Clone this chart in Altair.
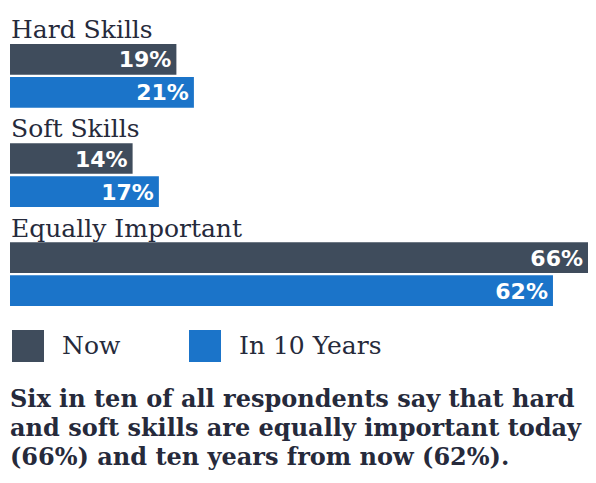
import altair as alt
import pandas as pd

groups = ["Hard Skills", "Soft Skills", "Equally Important"]
series = ["Now", "In 10 Years"]
now_values = [19, 14, 66]
future_values = [21, 17, 62]
colors = ["#3f4c5c", "#1b74c9"]
footnote = [
    "Six in ten of all respondents say that hard",
    "and soft skills are equally important today",
    "(66%) and ten years from now (62%).",
]

text_color = "#262a3b"

rows = []
for g, n, f in zip(groups, now_values, future_values):
    rows.append({"group": g, "series": "Now", "value": n, "row": g + "|Now"})
    rows.append({"group": g, "series": "In 10 Years", "value": f, "row": g + "|In 10 Years"})
bars_df = pd.DataFrame(rows)
bars_df["label"] = bars_df["value"].astype(str) + "%"
heads_df = pd.DataFrame({"group": groups, "row": [g + "|head" for g in groups]})
row_order = [r for g in groups for r in (g + "|head", g + "|Now", g + "|In 10 Years")]

yscale = alt.Scale(domain=row_order, paddingInner=0.07, paddingOuter=0.03)
xscale = alt.Scale(domain=[0, 66], nice=False, zero=True)
y_enc = alt.Y("row:N", scale=yscale, axis=None, sort=row_order)

bars = alt.Chart(bars_df).mark_bar().encode(
    x=alt.X("value:Q", scale=xscale, axis=None),
    y=y_enc,
    color=alt.Color(
        "series:N",
        scale=alt.Scale(domain=series, range=colors),
        legend=alt.Legend(
            orient="none",
            legendX=2,
            legendY=320,
            direction="horizontal",
            title=None,
            symbolType="square",
            symbolSize=1024,
            symbolStrokeWidth=0,
            symbolOpacity=1,
            labelFont="DejaVu Serif",
            labelFontSize=25,
            labelColor=text_color,
            labelOffset=18,
            columnPadding=68,
            padding=0,
        ),
    ),
)

values = alt.Chart(bars_df).mark_text(
    align="right", baseline="middle", dx=-5, dy=1, font="DejaVu Sans",
    fontWeight="bold", fontSize=22, color="white",
).encode(
    x=alt.X("value:Q", scale=xscale, axis=None),
    y=y_enc,
    text="label:N",
)

heads = alt.Chart(heads_df).mark_text(
    align="left", baseline="alphabetic", dy=12, font="DejaVu Serif",
    fontSize=25, color=text_color,
).encode(
    x=alt.value(1),
    y=y_enc,
    text="group:N",
)

chart = alt.layer(bars, values, heads).properties(
    width=578,
    height=297,
    padding={"left": 2, "top": 2, "right": 0, "bottom": 5},
    title=alt.Title(
        text=footnote,
        orient="bottom",
        anchor="start",
        font="DejaVu Serif",
        fontWeight="bold",
        fontSize=24,
        lineHeight=29,
        color=text_color,
        offset=26,
    ),
).configure_view(stroke=None)

chart.save("out.html", embed_options={"renderer": "svg", "actions": False})
